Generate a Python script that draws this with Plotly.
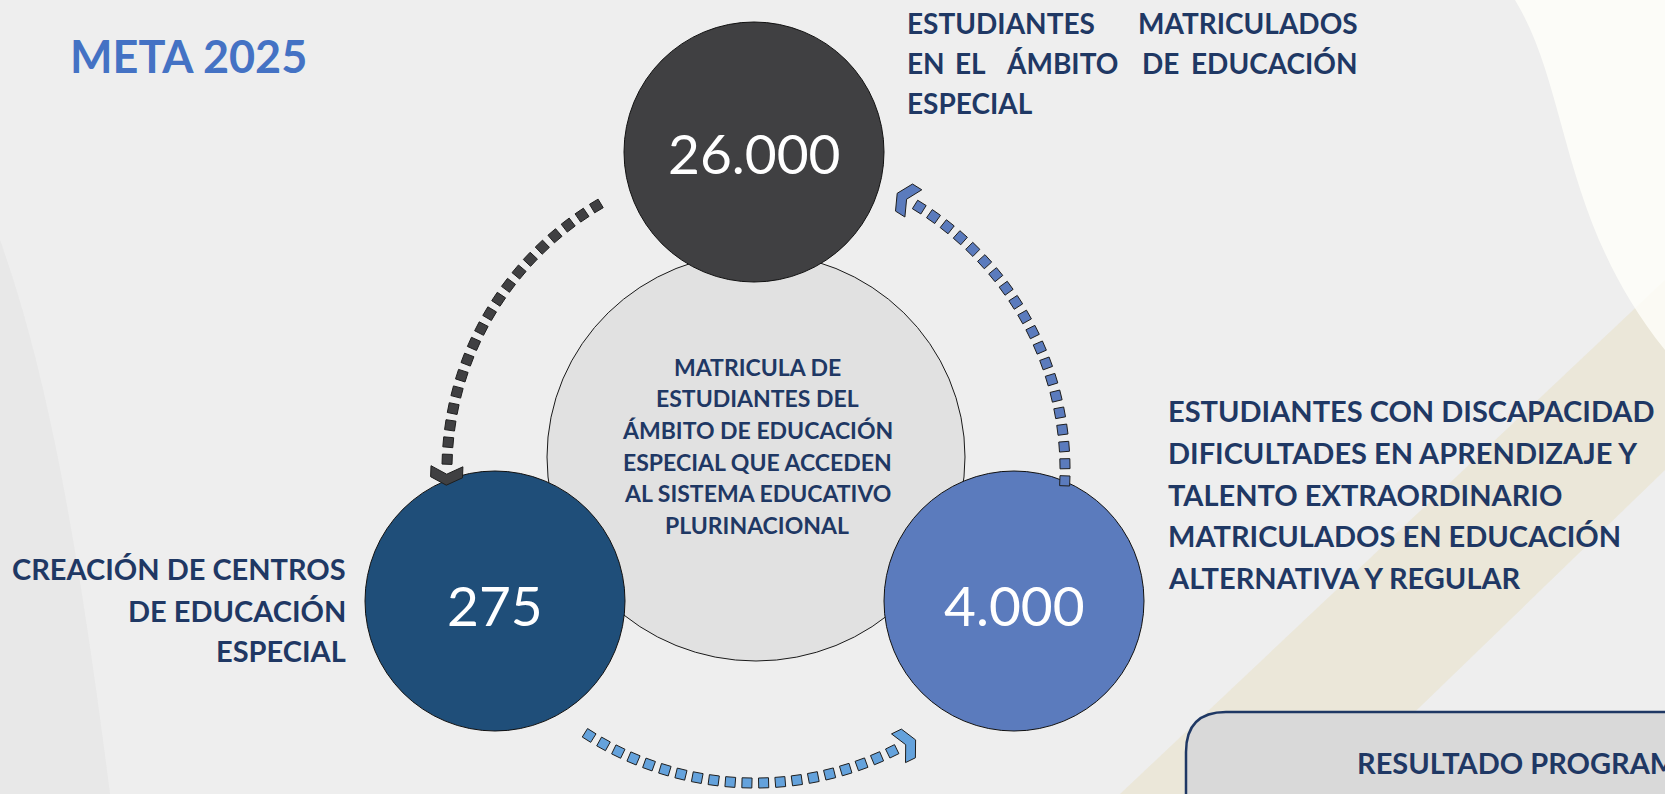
import numpy as np
import plotly.graph_objects as go

W, H = 1665, 794

# ---------------- data ----------------
title_text = "META 2025"
values = ["26.000", "275", "4.000"]
center_lines = ["MATRICULA DE", "ESTUDIANTES DEL", "ÁMBITO DE EDUCACIÓN",
                "ESPECIAL QUE ACCEDEN", "AL SISTEMA EDUCATIVO", "PLURINACIONAL"]
top_label_l1 = ["ESTUDIANTES", "MATRICULADOS"]
top_label_l2 = ["EN", "EL", "ÁMBITO", "DE", "EDUCACIÓN"]
top_label_l3 = "ESPECIAL"
left_label = ["CREACIÓN DE CENTROS", "DE EDUCACIÓN", "ESPECIAL"]
right_label = ["ESTUDIANTES CON DISCAPACIDAD", "DIFICULTADES EN APRENDIZAJE Y",
               "TALENTO EXTRAORDINARIO", "MATRICULADOS EN EDUCACIÓN",
               "ALTERNATIVA Y REGULAR"]
result_title = "RESULTADO PROGRAMADO"

# ---------------- style ----------------
NAVY = "#1f3864"
FONT = "Lato"
circle_specs = [  # cx, cy, r, fill
    (754, 152, 130, "#404042"),
    (495, 601, 130, "#1f4e79"),
    (1014, 601, 130, "#5b7bbd"),
]
big_circle = (756, 457, 209, 204)
arc_center = (755, 470)

fig = go.Figure()
shapes = []
ann = []

# background decorations
shapes.append(dict(type="path", layer="below",
                   path="M 0 240 C 50 380 80 560 110 794 L 0 794 Z",
                   fillcolor="rgba(205,205,205,0.18)", line=dict(width=0)))
shapes.append(dict(type="path", layer="below",
                   path="M 1120 794 L 1665 280 L 1665 470 L 1330 794 Z",
                   fillcolor="rgba(228,214,168,0.30)", line=dict(width=0)))
shapes.append(dict(type="path", layer="below",
                   path="M 1515 0 C 1570 90 1560 220 1665 350 L 1665 0 Z",
                   fillcolor="rgba(255,255,250,0.8)", line=dict(width=0)))

# central circle
bx, by, brx, bry = big_circle
shapes.append(dict(type="circle", layer="below", xref="x", yref="y",
                   x0=bx - brx, x1=bx + brx, y0=by - bry, y1=by + bry,
                   fillcolor="#e1e1e1", line=dict(color="#1a1a1a", width=1)))
# value circles
for cx, cy, r, col in circle_specs:
    shapes.append(dict(type="circle", layer="below", xref="x", yref="y",
                       x0=cx - r, x1=cx + r, y0=cy - r, y1=cy + r,
                       fillcolor=col, line=dict(color="#111111", width=1)))

# result box
shapes.append(dict(type="path", layer="below",
                   path="M 1186 840 L 1186 752 Q 1186 712 1226 712 L 1720 712 L 1720 840 Z",
                   fillcolor="#d9d9d9", line=dict(color=NAVY, width=2.5)))


def arc_trace(th0, th1, n, r, color):
    th = np.radians(np.linspace(th0, th1, n))
    x = arc_center[0] + r * np.cos(th)
    y = arc_center[1] + r * np.sin(th)
    ang = np.degrees(th)
    fig.add_trace(go.Scatter(x=x, y=y, mode="markers", hoverinfo="skip",
                             marker=dict(symbol="square", size=10, color=color,
                                         angle=ang, line=dict(color="#1e1e1e", width=1))))
    # chevron at the end
    te = th[-1]
    ex, ey = x[-1], y[-1]
    fx, fy = np.sin(te), -np.cos(te)  # direction of decreasing angle
    nx, ny = -fy, fx
    bx0, by0 = ex + fx * 7, ey + fy * 7
    w, notch, thick = 32, 8, 11
    pts = [(-w / 2, 0), (0, notch), (w / 2, 0), (w / 2, thick), (0, notch + thick), (-w / 2, thick)]
    P = [(bx0 + u * nx + v * fx, by0 + u * ny + v * fy) for u, v in pts]
    path = "M " + " L ".join(f"{px:.1f} {py:.1f}" for px, py in P) + " Z"
    shapes.append(dict(type="path", layer="above", path=path, fillcolor=color,
                       line=dict(color="#1e1e1e", width=1)))


arc_trace(239, 182, 19, 308, "#404042")
arc_trace(2, -58, 20, 310, "#5b7bbd")
arc_trace(122, 64, 20, 313, "#64a2dc")


def text(x, y, s, size, color=NAVY, bold=True, anchor="left", family=FONT):
    ann.append(dict(x=x, y=y, xref="x", yref="y", text=f"<b>{s}</b>" if bold else s,
                    showarrow=False, xanchor=anchor, yanchor="middle",
                    font=dict(family=family, size=size, color=color)))


LBL = 29

# title
text(68, 56, title_text, 45, color="#4472c4")

# values
for (cx, cy, r, col), v, dy in zip(circle_specs, values, [1, 4, 4]):
    text(cx, cy + dy, v, 55, color="white", bold=False, anchor="center")

# center text
for s, y in zip(center_lines, [367, 398, 430, 462, 493, 525]):
    text(757, y, s, 23, anchor="center")

# top label (justified)
text(905, 23, top_label_l1[0], 28)
text(1360, 23, top_label_l1[1], 28, anchor="right")
text(905, 63, top_label_l2[0], 28)
for s, x in zip(top_label_l2[1:-1], [970, 1062, 1160]):
    text(x, 63, s, 28, anchor="center")
text(1360, 63, top_label_l2[-1], 28, anchor="right")
text(905, 103, top_label_l3, 28)

# left label
for s, y in zip(left_label, [568, 610, 650]):
    text(348, y, s, LBL, anchor="right")

# right label
for s, y in zip(right_label, [410, 452, 494, 535, 577]):
    text(1166, y, s, LBL)

# result box title
text(1355, 762, result_title, LBL)

fig.update_layout(
    width=W, height=H, margin=dict(l=0, r=0, t=0, b=0),
    paper_bgcolor="#eeeeee", plot_bgcolor="rgba(0,0,0,0)",
    showlegend=False, shapes=shapes, annotations=ann,
    xaxis=dict(range=[0, W], visible=False, fixedrange=True),
    yaxis=dict(range=[H, 0], visible=False, fixedrange=True),
)
fig.write_html("out.html", config={"displayModeBar": False},
               post_script="document.body.style.margin='0px';document.body.style.overflow='hidden';")
